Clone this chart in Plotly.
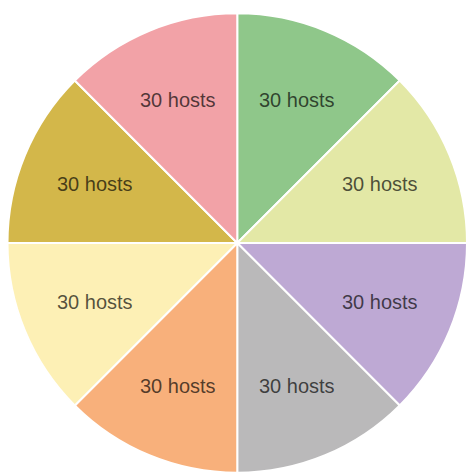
import math
import plotly.graph_objects as go

# Hosts per subnet, listed clockwise from 12 o'clock
subnets = ["Subnet 1", "Subnet 2", "Subnet 3", "Subnet 4",
           "Subnet 5", "Subnet 6", "Subnet 7", "Subnet 8"]
hosts = [30, 30, 30, 30, 30, 30, 30, 30]
colors = ["#8fc78a", "#e3e8a6", "#bea9d4", "#bab9ba",
          "#f8b07b", "#fdf0b5", "#d3b74a", "#f2a2a7"]

W, H = 467, 474
cx, cy, r = 237.5, 243.0, 230.0  # pixel centre (from top) and radius
label_r = 0.672 * r               # radius at which slice labels sit

fig = go.Figure(go.Pie(
    labels=subnets,
    values=hosts,
    sort=False,
    direction="clockwise",
    rotation=0,
    marker=dict(colors=colors, line=dict(color="white", width=2)),
    textinfo="none",
    hoverinfo="label+value",
    domain=dict(x=[(cx - r) / W, min(1.0, (cx + r) / W)],
                y=[(H - cy - r) / H, (H - cy + r) / H]),
))

# Horizontal labels at each slice's mid-angle
total = sum(hosts)
start = 0.0
for v in hosts:
    mid = (start + v / 2) / total * 2 * math.pi
    start += v
    px = cx + label_r * math.sin(mid)
    py = cy - label_r * math.cos(mid)
    fig.add_annotation(
        x=px / W, y=(H - py) / H, xref="paper", yref="paper",
        text=f"{v} hosts", showarrow=False,
        xanchor="center", yanchor="middle",
        font=dict(family="Liberation Sans, Arial, sans-serif", size=20,
                  color="rgba(0,0,0,0.68)"),
    )

fig.update_layout(
    width=W, height=H,
    margin=dict(l=0, r=0, t=0, b=0),
    paper_bgcolor="white",
    plot_bgcolor="white",
    showlegend=False,
)

fig.write_html("out.html")
